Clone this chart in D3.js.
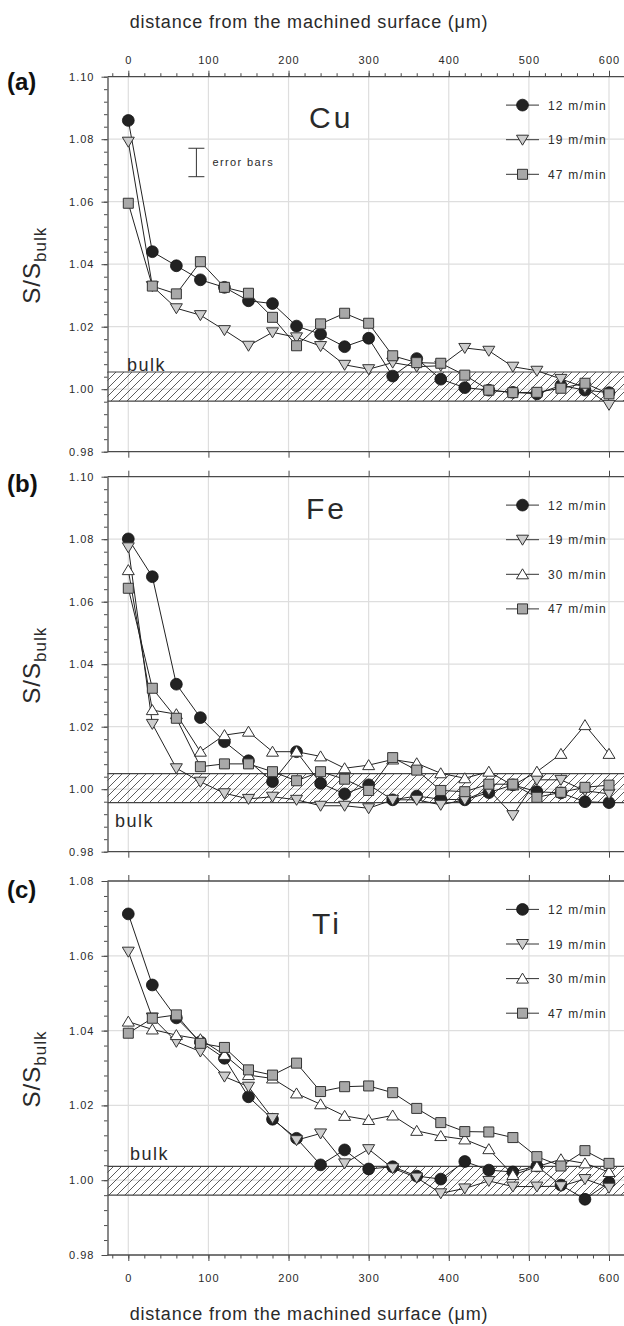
<!DOCTYPE html>
<html>
<head>
<meta charset="utf-8">
<script src="https://cdn.jsdelivr.net/npm/d3@7"></script>
<style>
  body { margin: 0; background: #fff; }
  svg { display: block; font-family: "Liberation Sans", Arial, sans-serif; }
</style>
</head>
<body>
<svg id="chart" width="624" height="1326"></svg>
<script>
// distance from the machined surface (um)
const distance = [0, 30, 60, 90, 120, 150, 180, 210, 240, 270, 300, 330, 360, 390, 420, 450, 480, 510, 540, 570, 600];
const xTicks = [0, 100, 200, 300, 400, 500, 600];

// Cu
const cu12 = [1.0860, 1.0440, 1.0395, 1.0350, 1.0326, 1.0283, 1.0274, 1.0202, 1.0176, 1.0136, 1.0163, 1.0042, 1.0098, 1.0032, 1.0005, 0.9997, 0.9990, 0.9985, 1.0012, 0.9997, 0.9989];
const cu19 = [1.0792, 1.0330, 1.0259, 1.0237, 1.0189, 1.0139, 1.0182, 1.0166, 1.0138, 1.0078, 1.0064, 1.0085, 1.0072, 1.0075, 1.0132, 1.0123, 1.0072, 1.0059, 1.0033, 1.0005, 0.9950];
const cu47 = [1.0595, 1.0330, 1.0305, 1.0408, 1.0326, 1.0307, 1.0230, 1.0139, 1.0209, 1.0243, 1.0211, 1.0107, 1.0085, 1.0083, 1.0045, 0.9997, 0.9989, 0.9990, 1.0003, 1.0019, 0.9985];

// Fe
const fe12 = [1.0801, 1.0680, 1.0336, 1.0229, 1.0152, 1.0091, 1.0024, 1.0120, 1.0019, 0.9985, 1.0014, 0.9966, 0.9978, 0.9968, 0.9966, 0.9989, 1.0014, 0.9992, 0.9988, 0.9960, 0.9957];
const fe19 = [1.0774, 1.0209, 1.0067, 1.0024, 0.9987, 0.9969, 0.9976, 0.9966, 0.9947, 0.9947, 0.9939, 0.9966, 0.9966, 0.9950, 0.9966, 0.9998, 0.9917, 1.0030, 1.0030, 0.9995, 0.9985];
const fe30 = [1.0701, 1.0253, 1.0240, 1.0120, 1.0173, 1.0184, 1.0120, 1.0120, 1.0105, 1.0067, 1.0077, 1.0095, 1.0083, 1.0051, 1.0035, 1.0056, 1.0012, 1.0056, 1.0113, 1.0205, 1.0113];
const fe47 = [1.0643, 1.0323, 1.0227, 1.0072, 1.0081, 1.0081, 1.0056, 1.0027, 1.0056, 1.0032, 0.9996, 1.0101, 1.0061, 0.9996, 0.9992, 1.0016, 1.0016, 0.9974, 0.9990, 1.0006, 1.0013];

// Ti
const ti12 = [1.0712, 1.0522, 1.0434, 1.0370, 1.0326, 1.0223, 1.0163, 1.0112, 1.0041, 1.0081, 1.0030, 1.0036, 1.0011, 1.0003, 1.0050, 1.0027, 1.0022, 1.0038, 0.9987, 0.9949, 0.9994];
const ti19 = [1.0611, 1.0435, 1.0370, 1.0344, 1.0277, 1.0250, 1.0166, 1.0107, 1.0125, 1.0045, 1.0083, 1.0032, 1.0007, 0.9965, 0.9978, 0.9998, 0.9983, 0.9983, 0.9984, 1.0003, 0.9980];
const ti30 = [1.0424, 1.0403, 1.0388, 1.0377, 1.0335, 1.0281, 1.0272, 1.0232, 1.0203, 1.0172, 1.0161, 1.0173, 1.0132, 1.0118, 1.0109, 1.0083, 1.0014, 1.0036, 1.0056, 1.0045, 1.0022];
const ti47 = [1.0393, 1.0433, 1.0442, 1.0366, 1.0355, 1.0295, 1.0281, 1.0313, 1.0237, 1.0250, 1.0252, 1.0234, 1.0192, 1.0154, 1.0130, 1.0129, 1.0114, 1.0063, 1.0038, 1.0079, 1.0045];

// bulk bands (low, high)
const cuBand = [0.9962, 1.0055];
const feBand = [0.9957, 1.0050];
const tiBand = [0.9960, 1.0037];

const yTicksWide = [0.98, 1.00, 1.02, 1.04, 1.06, 1.08, 1.10];
const yTicksTi = [0.98, 1.00, 1.02, 1.04, 1.06, 1.08];

// error bar example in panel (a)
const errorBarX = 85;
const errorBarRange = [1.068, 1.0771];

const svg = d3.select("#chart");
const plotLeft = 107.5;
const plotRight = 624;
const x = d3.scaleLinear().domain([0, 600]).range([128.3, 609]);
const xMinor = d3.range(-20, 621, 20);

const axisColor = "#4a4a4a";
const textColor = "#2a2a2a";

const markerStyle = {
  "12 m/min": { shape: "circle", fill: "#222" },
  "19 m/min": { shape: "down", fill: "#cdcdcd" },
  "30 m/min": { shape: "up", fill: "#fff" },
  "47 m/min": { shape: "square", fill: "#a8a8a8" }
};

const shapePath = {
  down: "M-6,-4.5L6,-4.5L0,5.5Z",
  up: "M-6,4.5L6,4.5L0,-5.5Z",
  square: "M-5,-5H5V5H-5Z"
};

function drawMarker(g, cx, cy, style) {
  if (style.shape === "circle") {
    g.append("circle")
      .attr("cx", cx).attr("cy", cy).attr("r", 5.9)
      .attr("fill", style.fill).attr("stroke", "#111").attr("stroke-width", 0.8);
  } else {
    g.append("path")
      .attr("d", shapePath[style.shape])
      .attr("transform", `translate(${cx},${cy})`)
      .attr("fill", style.fill).attr("stroke", "#333").attr("stroke-width", 1);
  }
}

// hatch pattern for the bulk band
svg.append("defs").append("pattern")
  .attr("id", "hatch")
  .attr("patternUnits", "userSpaceOnUse")
  .attr("width", 8).attr("height", 8)
  .append("path")
  .attr("d", "M-2,2L2,-2M0,8L8,0M6,10L10,6")
  .attr("stroke", "#333")
  .attr("stroke-width", 0.8);

const panels = [
  {
    label: "(a)", element: "Cu", top: 76.7, bottom: 451.7, yDomain: [0.98, 1.10], yTicks: yTicksWide,
    band: cuBand, series: [["12 m/min", cu12], ["19 m/min", cu19], ["47 m/min", cu47]],
    labelY: 90, elementX: 309, elementY: 128, bulkX: 127, bulkY: 371,
    topAxis: "full", bottomAxis: "plain", errorBar: true
  },
  {
    label: "(b)", element: "Fe", top: 476.7, bottom: 851.7, yDomain: [0.98, 1.10], yTicks: yTicksWide,
    band: feBand, series: [["12 m/min", fe12], ["19 m/min", fe19], ["30 m/min", fe30], ["47 m/min", fe47]],
    labelY: 492, elementX: 306, elementY: 519, bulkX: 115, bulkY: 827,
    topAxis: "plain", bottomAxis: "plain", errorBar: false
  },
  {
    label: "(c)", element: "Ti", top: 881, bottom: 1255, yDomain: [0.98, 1.08], yTicks: yTicksTi,
    band: tiBand, series: [["12 m/min", ti12], ["19 m/min", ti19], ["30 m/min", ti30], ["47 m/min", ti47]],
    labelY: 898, elementX: 312, elementY: 934, bulkX: 130, bulkY: 1160,
    topAxis: "plain", bottomAxis: "full", errorBar: false
  }
];

panels.forEach(p => {
  const y = d3.scaleLinear().domain(p.yDomain).range([p.bottom, p.top]);
  const g = svg.append("g");

  // grid
  g.selectAll(".vgrid").data(xTicks).enter().append("line")
    .attr("x1", d => x(d)).attr("x2", d => x(d))
    .attr("y1", p.top).attr("y2", p.bottom)
    .attr("stroke", "#dedede").attr("stroke-width", 1.2);
  g.selectAll(".hgrid").data(p.yTicks.slice(1, -1)).enter().append("line")
    .attr("x1", plotLeft).attr("x2", plotRight)
    .attr("y1", d => y(d)).attr("y2", d => y(d))
    .attr("stroke", "#dedede").attr("stroke-width", 1.2);

  // bulk band
  g.append("rect")
    .attr("x", plotLeft).attr("width", plotRight - plotLeft)
    .attr("y", y(p.band[1])).attr("height", y(p.band[0]) - y(p.band[1]))
    .attr("fill", "url(#hatch)");
  p.band.forEach(v => {
    g.append("line")
      .attr("x1", plotLeft).attr("x2", plotRight)
      .attr("y1", y(v)).attr("y2", y(v))
      .attr("stroke", "#444").attr("stroke-width", 1.2);
  });

  g.append("text")
    .attr("x", p.bulkX).attr("y", p.bulkY)
    .style("font-size", "18px").style("letter-spacing", "1.5px")
    .attr("fill", textColor)
    .text("bulk");

  // left axis
  const yMinor = d3.range(p.yDomain[0], p.yDomain[1] + 0.0001, 0.004);
  g.append("g")
    .attr("transform", `translate(${plotLeft},0)`)
    .call(d3.axisLeft(y).tickValues(yMinor).tickSize(3.5).tickFormat(""))
    .call(a => a.select(".domain").remove())
    .selectAll("line").attr("stroke", axisColor);
  g.append("g")
    .attr("transform", `translate(${plotLeft},0)`)
    .call(d3.axisLeft(y).tickValues(p.yTicks).tickSize(6).tickSizeOuter(0).tickPadding(7).tickFormat(d3.format(".2f")))
    .call(a => {
      a.select(".domain").attr("stroke", axisColor).attr("stroke-width", 1.3);
      a.selectAll("line").attr("stroke", axisColor);
      a.selectAll("text")
        .style("font-size", "11px").style("letter-spacing", "1px")
        .attr("fill", textColor).attr("font-family", null);
    });

  // top and bottom lines
  [[p.top, p.topAxis, true], [p.bottom, p.bottomAxis, false]].forEach(([yy, kind, isTop]) => {
    g.append("line")
      .attr("x1", plotLeft).attr("x2", plotRight)
      .attr("y1", yy).attr("y2", yy)
      .attr("stroke", axisColor).attr("stroke-width", 1.3);
    const makeAxis = isTop ? d3.axisTop : d3.axisBottom;
    if (kind === "full") {
      g.append("g")
        .attr("transform", `translate(0,${yy})`)
        .call(makeAxis(x).tickValues(xMinor).tickSize(3.5).tickFormat(""))
        .call(a => a.select(".domain").remove())
        .selectAll("line").attr("stroke", axisColor);
    }
    g.append("g")
      .attr("transform", `translate(0,${yy})`)
      .call(makeAxis(x).tickValues(xTicks).tickSize(6)
        .tickPadding(isTop ? 6.7 : 13)
        .tickFormat(kind === "full" ? d3.format("d") : ""))
      .call(a => {
        a.select(".domain").remove();
        a.selectAll("line").attr("stroke", axisColor);
        a.selectAll("text")
          .style("font-size", "11px").style("letter-spacing", "1px")
          .attr("fill", textColor).attr("font-family", null);
      });
  });

  // y title
  const yt = g.append("text")
    .attr("transform", `translate(40,${(p.top + p.bottom) / 2 + 1}) rotate(-90)`)
    .attr("text-anchor", "middle")
    .attr("fill", textColor)
    .style("font-size", "24px").style("letter-spacing", "1px");
  yt.append("tspan").text("S/S");
  yt.append("tspan").attr("dy", 6).style("font-size", "17px").text("bulk");

  // panel label and element name
  g.append("text")
    .attr("x", 7).attr("y", p.labelY)
    .style("font-size", "24px").style("font-weight", "bold")
    .attr("fill", "#111")
    .text(p.label);
  g.append("text")
    .attr("x", p.elementX).attr("y", p.elementY)
    .style("font-size", "30px").style("letter-spacing", "3px")
    .attr("fill", textColor)
    .text(p.element);

  // error bar
  if (p.errorBar) {
    const ex = x(errorBarX);
    g.append("line")
      .attr("x1", ex).attr("x2", ex)
      .attr("y1", y(errorBarRange[0])).attr("y2", y(errorBarRange[1]))
      .attr("stroke", "#333");
    errorBarRange.forEach(v => {
      g.append("line")
        .attr("x1", ex - 8).attr("x2", ex + 8)
        .attr("y1", y(v)).attr("y2", y(v))
        .attr("stroke", "#333");
    });
    g.append("text")
      .attr("x", ex + 16).attr("y", y((errorBarRange[0] + errorBarRange[1]) / 2) + 4)
      .style("font-size", "11px").style("letter-spacing", "1.4px")
      .attr("fill", textColor)
      .text("error bars");
  }

  // series
  const line = d3.line().x((d, i) => x(distance[i])).y(d => y(d));
  p.series.forEach(([name, values]) => {
    const sg = g.append("g");
    sg.append("path")
      .attr("d", line(values))
      .attr("fill", "none").attr("stroke", "#222").attr("stroke-width", 1);
    values.forEach((v, i) => drawMarker(sg, x(distance[i]), y(v), markerStyle[name]));
  });

  // legend
  p.series.forEach(([name], j) => {
    const ly = p.top + 28.4 + j * 34.6;
    g.append("line")
      .attr("x1", 506).attr("x2", 539).attr("y1", ly).attr("y2", ly)
      .attr("stroke", "#333").attr("stroke-width", 1);
    drawMarker(g, 522.5, ly, markerStyle[name]);
    g.append("text")
      .attr("x", 548).attr("y", ly + 4.5)
      .style("font-size", "12px").style("letter-spacing", "1.2px")
      .attr("fill", textColor)
      .text(name);
  });
});

// axis titles (top and bottom)
[28, 1320].forEach(ty => {
  svg.append("text")
    .attr("x", 309).attr("y", ty)
    .attr("text-anchor", "middle")
    .style("font-size", "18px").style("letter-spacing", "0.8px")
    .attr("fill", textColor)
    .text("distance from the machined surface (\u03bcm)");
});
</script>
</body>
</html>
